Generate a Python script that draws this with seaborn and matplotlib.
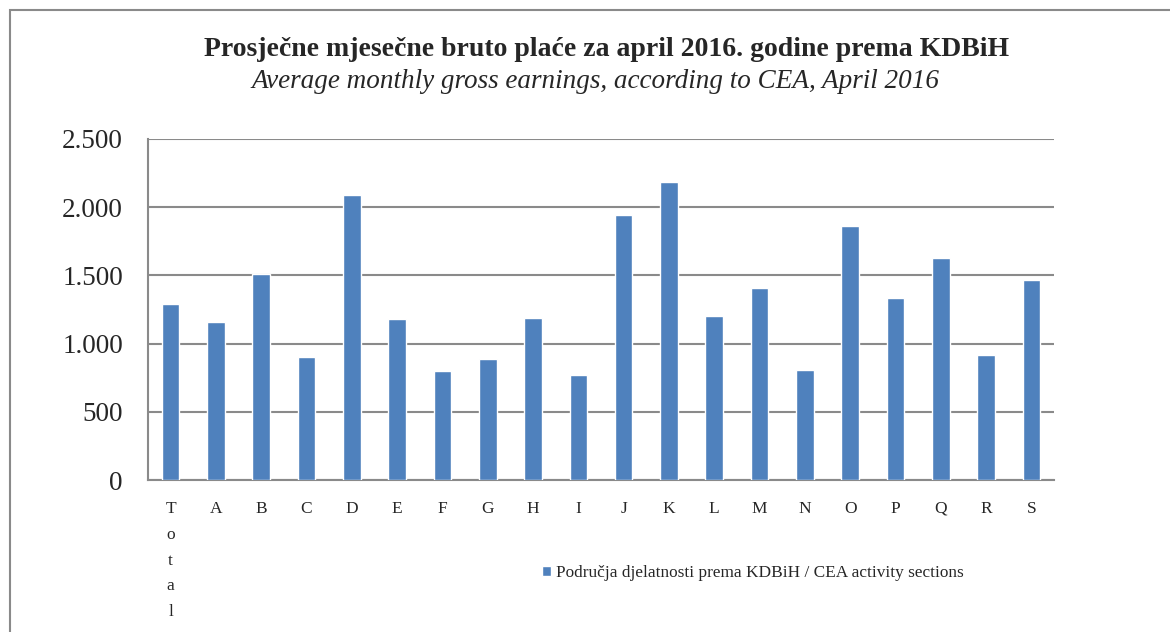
import numpy as np
import pandas as pd
import seaborn as sns
import matplotlib.pyplot as plt
from matplotlib.patches import Rectangle
from matplotlib.ticker import FuncFormatter

# Podaci
sections = ['Total', 'A', 'B', 'C', 'D', 'E', 'F', 'G', 'H', 'I', 'J',
            'K', 'L', 'M', 'N', 'O', 'P', 'Q', 'R', 'S']
earnings = [1288, 1156, 1509, 899, 2090, 1178, 796, 886, 1185, 772, 1940,
            2185, 1205, 1405, 807, 1865, 1334, 1625, 917, 1466]
tick_labels = ['T\no\nt\na\nl'] + sections[1:]
series_name = 'Područja djelatnosti prema KDBiH / CEA activity sections'

df = pd.DataFrame({'section': sections, 'value': earnings})

sns.set_style('white')
plt.rcParams['font.family'] = ['Liberation Serif', 'DejaVu Serif']

fig = plt.figure(figsize=(11.7, 6.32), dpi=100)
ax = fig.add_axes([148 / 1170, 1 - 480 / 632, 906 / 1170, 341 / 632])

sns.barplot(data=df, x='section', y='value', color='#4F81BD', width=0.39,
            saturation=1, ax=ax, label=series_name, zorder=3)

ax.set_ylim(0, 2500)
ax.set_yticks(np.arange(0, 2501, 500))
ax.yaxis.set_major_formatter(FuncFormatter(lambda v, p: f'{int(v):,}'.replace(',', '.')))
ax.tick_params(axis='y', labelsize=19.5, length=0, pad=18)
ax.tick_params(axis='x', labelsize=12.5, length=0, pad=15)
ax.set_xticks(range(len(sections)))
ax.set_xticklabels(tick_labels, linespacing=1.82, va='top')
ax.set_xlim(-0.5, len(sections) - 0.5)
ax.set_xlabel('')
ax.set_ylabel('')
ax.grid(axis='y', color='#8a8a8a', lw=1.5, zorder=0)
for s in ['top', 'right']:
    ax.spines[s].set_visible(False)
for s in ['left', 'bottom']:
    ax.spines[s].set_color('#8a8a8a')
    ax.spines[s].set_linewidth(1.5)

leg = ax.legend(loc='center left', bbox_to_anchor=(542 / 1170, 1 - 573 / 632),
                bbox_transform=fig.transFigure, frameon=False, fontsize=12.4,
                handlelength=0.55, handleheight=0.55, handletextpad=0.25,
                borderpad=0, borderaxespad=0)

fig.text(607 / 1170, 1 - 49 / 632, 'Prosječne mjesečne bruto plaće za april 2016. godine prema KDBiH',
         ha='center', va='center', fontsize=20, fontweight='bold')
fig.text(595 / 1170, 1 - 81 / 632, 'Average monthly gross earnings, according to CEA, April 2016',
         ha='center', va='center', fontsize=19.5, style='italic')

# okvir grafikona
fig.patches.append(Rectangle((10 / 1170, -0.05), 1.2, 1.05 - 10 / 632,
                             transform=fig.transFigure, fill=False,
                             edgecolor='#8a8a8a', lw=1.5))

plt.savefig('out.png', dpi=100)
